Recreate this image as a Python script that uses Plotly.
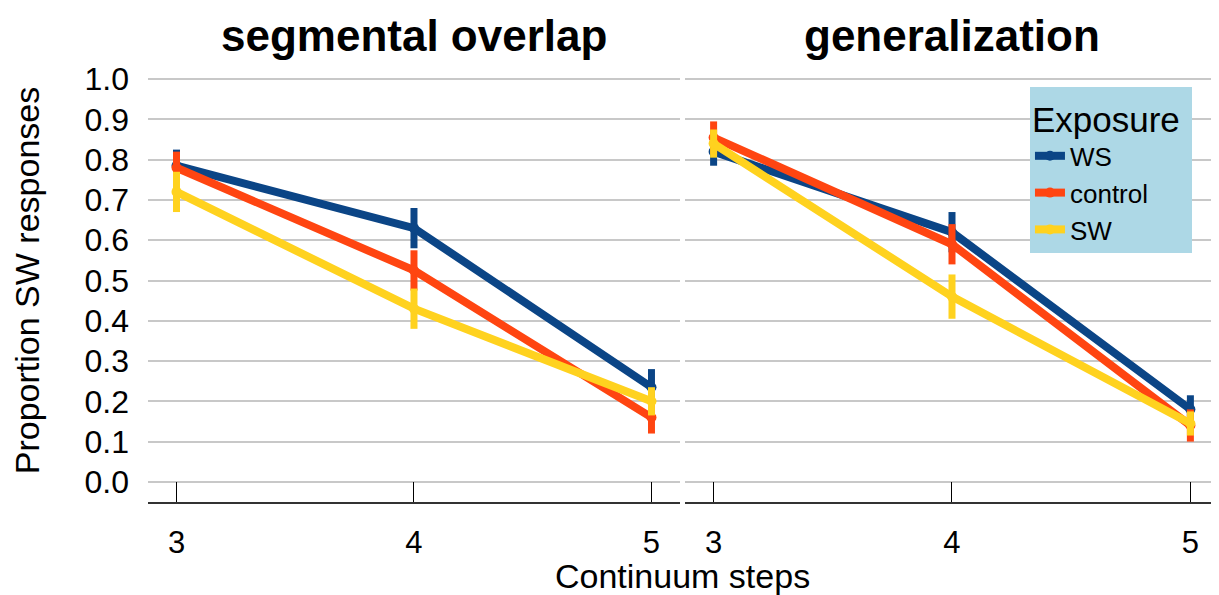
import plotly.graph_objects as go

steps = [3, 4, 5]
panels = ["segmental overlap", "generalization"]
groups = ["WS", "control", "SW"]
colors = {"WS": "#0b4586", "control": "#ff4511", "SW": "#ffd21f"}

# mean proportions [panel][group]
means = {
    "segmental overlap": {
        "WS": [0.785, 0.63, 0.235],
        "control": [0.78, 0.525, 0.16],
        "SW": [0.72, 0.43, 0.20],
    },
    "generalization": {
        "WS": [0.82, 0.62, 0.18],
        "control": [0.855, 0.59, 0.14],
        "SW": [0.84, 0.46, 0.145],
    },
}
errs = {
    "segmental overlap": {
        "WS": [0.04, 0.05, 0.045],
        "control": [0.04, 0.05, 0.04],
        "SW": [0.05, 0.05, 0.035],
    },
    "generalization": {
        "WS": [0.035, 0.05, 0.035],
        "control": [0.04, 0.05, 0.04],
        "SW": [0.035, 0.055, 0.03],
    },
}

yticks = [round(i * 0.1, 1) for i in range(11)]
ytext = [f"{v:.1f}" for v in yticks]

fig = go.Figure()
for pi, panel in enumerate(panels):
    xa = "x" if pi == 0 else "x2"
    ya = "y" if pi == 0 else "y2"
    for g in groups:
        fig.add_trace(go.Scatter(
            x=steps, y=means[panel][g], xaxis=xa, yaxis=ya,
            mode="lines+markers", name=g, legendgroup=g, showlegend=(pi == 1),
            line=dict(color=colors[g], width=8),
            marker=dict(color=colors[g], size=10),
            error_y=dict(type="data", array=errs[panel][g], color=colors[g],
                         thickness=7, width=0),
        ))

font = "Liberation Sans, Arial, sans-serif"
axx = dict(range=[2.88, 5.12], tickvals=steps, ticks="inside", ticklen=20,
           tickcolor="#000", tickwidth=1, showline=True, linecolor="#333",
           linewidth=2, showgrid=False, zeroline=False,
           tickfont=dict(size=31, color="#000", family=font),
           ticklabelstandoff=12)
axy = dict(range=[-0.05, 1.05], tickvals=yticks, ticktext=ytext,
           showgrid=True, gridcolor="#c8c8c8", gridwidth=2, zeroline=False,
           showline=False, ticks="", tickfont=dict(size=32, color="#000", family=font))

fig.update_layout(
    width=1219, height=595,
    margin=dict(l=140, r=8, t=51, b=101),
    plot_bgcolor="white", paper_bgcolor="white",
    font=dict(family=font, color="#000"),
    xaxis=dict(domain=[0, 0.4967], **axx),
    xaxis2=dict(domain=[0.5014, 1], **axx),
    yaxis=dict(domain=[0, 1], anchor="x", ticklabelstandoff=18,
               title=dict(text="Proportion SW responses", font=dict(size=34, color="#000"), standoff=34),
               **axy),
    yaxis2=dict(domain=[0, 1], anchor="x2", showticklabels=False, **axy),
    legend=dict(x=0.8235, y=0.937, xanchor="left", yanchor="top",
                bgcolor="#add8e6", borderwidth=0,
                title=dict(text="Exposure ", font=dict(size=35, color="#000")),
                font=dict(size=26, color="#000"), tracegroupgap=0,
                itemwidth=30),
    annotations=[
        dict(text="<b>segmental overlap</b>", x=0.2484, y=1.054, xref="paper", yref="paper",
             xanchor="center", yanchor="middle", showarrow=False, font=dict(size=44, color="#000")),
        dict(text="<b>generalization</b>", x=0.7507, y=1.054, xref="paper", yref="paper",
             xanchor="center", yanchor="middle", showarrow=False, font=dict(size=44, color="#000")),
        dict(text="Continuum steps", x=0.4995, y=-0.168, xref="paper", yref="paper",
             xanchor="center", yanchor="middle", showarrow=False, font=dict(size=34, color="#000")),
    ],
)

fig.write_html("out.html")
